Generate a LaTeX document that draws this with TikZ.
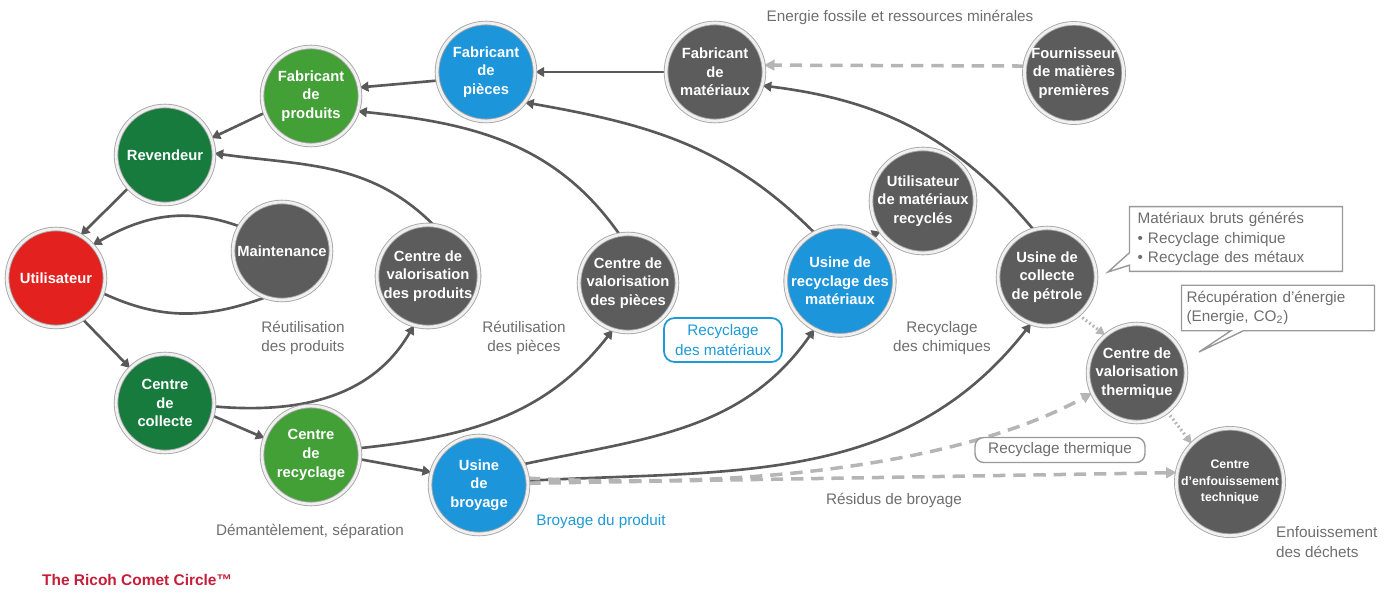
\documentclass[tikz,border=0pt]{standalone}
\usepackage{fontspec}
\setmainfont{Liberation Sans}
\usetikzlibrary{arrows.meta,backgrounds,shadows,shapes.callouts}

\definecolor{stagegray}{HTML}{5C5C5C}
\definecolor{stagegreen}{HTML}{43A036}
\definecolor{stagedkgreen}{HTML}{167B3D}
\definecolor{stagered}{HTML}{E32220}
\definecolor{stageblue}{HTML}{1D95DB}
\definecolor{flowgray}{HTML}{595959}
\definecolor{dashgray}{HTML}{B5B5B5}
\definecolor{labelgray}{HTML}{6E6E6E}
\definecolor{labelblue}{HTML}{1E9AD6}
\definecolor{titlered}{HTML}{C41E3A}

\tikzset{
  stage/.style={circle, minimum size=1.96cm, inner sep=0pt, align=center,
    text=white, font=\bfseries\fontsize{8.4}{10.6}\selectfont,
    draw=gray!70, double=gray!12, double distance=1.6pt, line width=0.5pt,
    drop shadow={shadow xshift=0.6pt, shadow yshift=-0.9pt, opacity=0.3, fill=black}},
  gstage/.style={stage, fill=stagegray},
  lgstage/.style={stage, fill=stagegreen},
  dgstage/.style={stage, fill=stagedkgreen},
  rstage/.style={stage, fill=stagered},
  bstage/.style={stage, fill=stageblue},
  lbl/.style={text=labelgray, align=center, font=\fontsize{8.7}{11}\selectfont},
  flow/.style={draw=flowgray, line width=1.5pt, -{Triangle[length=5pt,width=5.5pt]}},
  flowline/.style={draw=flowgray, line width=1.5pt},
  dashflow/.style={draw=dashgray, line width=2pt, dash pattern=on 7pt off 4.5pt,
    -{Triangle[length=6pt,width=6pt]}},
  dotflow/.style={draw=dashgray, line width=1.8pt, dash pattern=on 1pt off 1.5pt,
    -{Triangle[length=5pt,width=5pt]}},
  note/.style={rectangle callout, draw=gray!80, line width=0.8pt, fill=white,
    align=left, text=labelgray, font=\fontsize{8.7}{11}\selectfont}
}

\begin{document}
\begin{tikzpicture}[x=0.02cm,y=0.02cm]
\useasboundingbox (0,0) rectangle (1390,592);

% the circle
\node[rstage]  (util)     at (56,314)   {Utilisateur};
\node[dgstage] (revend)   at (165,437)  {Revendeur};
\node[lgstage] (fprod)    at (311,496)  {Fabricant\\de\\produits};
\node[bstage]  (fpiece)   at (486,520)  {Fabricant\\de\\pièces};
\node[gstage]  (fmat)     at (715,520)  {Fabricant\\de\\matériaux};
\node[gstage]  (fourn)    at (1074,519) {Fournisseur\\de matières\\premières};
\node[gstage]  (maint)    at (282,341)  {Maintenance};
\node[gstage]  (cvprod)   at (428,316)  {Centre de\\valorisation\\des produits};
\node[gstage]  (cvpiece)  at (628,309)  {Centre de\\valorisation\\des pièces};
\node[bstage]  (urm)      at (840,311)  {Usine de\\recyclage des\\matériaux};
\node[gstage]  (umr)      at (923,391)  {Utilisateur\\de matériaux\\recyclés};
\node[gstage]  (ucp)      at (1047,315) {Usine de\\collecte\\de pétrole};
\node[gstage]  (cvt)      at (1137,219) {Centre de\\valorisation\\thermique};
\node[gstage, font=\bfseries\fontsize{7}{9.5}\selectfont]
               (cet)      at (1230,110) {Centre\\d'enfouissement\\technique};
\node[dgstage] (collecte) at (165,189)  {Centre\\de\\collecte};
\node[lgstage] (crecy)    at (311,137)  {Centre\\de\\recyclage};
\node[bstage]  (broyage)  at (479,107)  {Usine\\de\\broyage};

% labels
\node[lbl] (energie) at (900,575) {Energie fossile et ressources minérales};
\node[lbl] (reuprod) at (303,254) {Réutilisation\\des produits};
\node[lbl] (reupiece) at (524,254) {Réutilisation\\des pièces};
\node[lbl] (recchim) at (942,254) {Recyclage\\des chimiques};
\node[lbl] (demant) at (310,61) {Démantèlement, séparation};
\node[lbl] (residus) at (894,92) {Résidus de broyage};
\node[lbl, align=left, anchor=west] (enfou) at (1270,50) {Enfouissement\\des déchets};
\node[lbl, text=labelblue] (broyprod) at (601,70) {Broyage du produit};
\node[lbl, text=labelblue, draw=labelblue, line width=1pt, rounded corners=6pt,
  minimum width=2.36cm, minimum height=0.88cm, inner sep=1pt] (recmat) at (723,252) {Recyclage\\des matériaux};
\node[lbl, draw=gray!80, line width=0.8pt, fill=white, rounded corners=5pt,
  minimum width=3.4cm, minimum height=0.5cm, inner sep=1pt] (recth) at (1060,142) {Recyclage thermique};
\node[note, text width=3.94cm, minimum height=1.26cm, inner xsep=0.16cm,
  callout absolute pointer={(1108,320)}] (brut) at (1236,353)
  {Matériaux bruts générés\\• Recyclage chimique\\• Recyclage des métaux};
\node[note, text width=3.66cm, minimum height=0.88cm, inner xsep=0.1cm,
  callout absolute pointer={(1199,240)}] (recup) at (1278,284)
  {Récupération d'énergie\\(Energie, CO\textsubscript{2})};
\node[anchor=west, text=titlered, font=\bfseries\fontsize{8.8}{10}\selectfont] (titre) at (36,12)
  {The Ricoh Comet Circle™};

\begin{scope}[on background layer]
\draw[flow] (fmat.180) -- (fpiece.0);
\draw[flow] (fpiece.190) -- (fprod.10);
\draw[flow] (fprod.200) -- (revend.20);
\draw[flow] (revend.222) -- (util.60);
\draw[flow] (maint.150) to[out=160,in=30] (util.42);
\draw[flowline] (util.342) to[out=335,in=200] (maint.250);
\draw[flow] (util.303) -- (collecte.135);
\draw[flow] (collecte.345) -- (crecy.160);
\draw[flow] (crecy.355) -- (broyage.165);
\draw[flow] (collecte.356) to[out=355,in=240] (cvprod.254);
\draw[flow] (cvprod.84) to[out=135,in=352] (revend.2);
\draw[flow] (crecy.8) to[out=6,in=232] (cvpiece.252);
\draw[flow] (cvpiece.100) to[out=125,in=354] (fprod.342);
\draw[flow] (broyage.25) to[out=12,in=235] (urm.242);
\draw[flow] (urm.118) to[out=135,in=350] (fpiece.322);
\draw[flow] (urm.56) -- (umr.216);
\draw[flow] (broyage.5) to[out=3,in=232] (ucp.251);
\draw[flow] (ucp.106) to[out=130,in=353] (fmat.344);
\draw[dashflow] (fourn.172) -- (fmat.8);
\draw[dashflow] (broyage.8) .. controls +(-3:250) and +(209:130) .. (cvt.204);
\draw[dashflow] (broyage.2) -- (cet.170);
\draw[dotflow] (ucp.310) -- (cvt.130);
\draw[dotflow] (cvt.308) -- (cet.135);
\end{scope}
\end{tikzpicture}
\end{document}
